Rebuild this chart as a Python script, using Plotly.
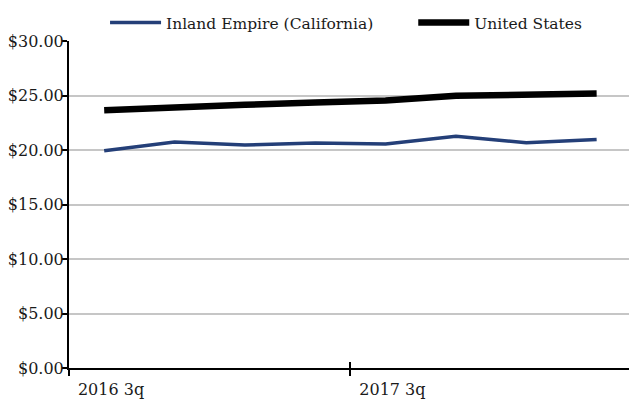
import plotly.graph_objects as go

quarters = ["2016 3q", "2016 4q", "2017 1q", "2017 2q", "2017 3q", "2017 4q", "2018 1q", "2018 2q"]
inland_empire = [19.94, 20.73, 20.45, 20.64, 20.55, 21.27, 20.67, 20.97]
united_states = [23.64, 23.94, 24.15, 24.36, 24.55, 24.97, 25.06, 25.18]
y_ticks = [0, 5, 10, 15, 20, 25, 30]
y_tick_labels = ["$0.00", "$5.00", "$10.00", "$15.00", "$20.00", "$25.00", "$30.00"]
x_tick_labels = [quarters[0], quarters[4]]

xpos = list(range(len(quarters)))
FONT = "DejaVu Serif"
TXT = "#1a1a1a"

fig = go.Figure()
fig.add_trace(go.Scatter(x=xpos, y=inland_empire, mode="lines", name="Inland Empire (California)",
                         line=dict(color="#243f78", width=3.5), legend="legend"))
fig.add_trace(go.Scatter(x=xpos, y=united_states, mode="lines", name="United States",
                         line=dict(color="#000000", width=6.5), legend="legend2"))

legend_common = dict(orientation="h", xref="container", yref="container", y=0.9425,
                     xanchor="left", yanchor="middle", itemwidth=51,
                     bgcolor="rgba(0,0,0,0)",
                     font=dict(family=FONT, size=15.5, color=TXT))

fig.update_layout(
    width=629, height=400,
    margin=dict(l=69, r=0, t=41, b=32, autoexpand=False),
    paper_bgcolor="white", plot_bgcolor="white",
    font=dict(family=FONT, size=16, color=TXT),
    showlegend=True,
    legend=dict(x=0.167, **legend_common),
    legend2=dict(x=0.657, **legend_common),
    xaxis=dict(range=[-0.5, 7.46], tickvals=[-0.5, 3.5], ticktext=x_tick_labels,
               ticks="outside", ticklen=6, tickwidth=2, tickcolor="black",
               showline=True, linecolor="black", linewidth=2, showgrid=False, zeroline=False,
               ticklabelshift=42, ticklabelstandoff=0,
               tickfont=dict(family=FONT, size=16, color=TXT)),
    xaxis2=dict(range=[-0.5, 7.46], tickvals=[-0.5, 3.5], overlaying="x",
                ticks="inside", ticklen=6, tickwidth=2, tickcolor="black",
                showticklabels=False, showline=False, showgrid=False, zeroline=False),
    yaxis=dict(range=[0, 30], tickvals=y_ticks, ticktext=y_tick_labels,
               ticks="outside", ticklen=5, tickwidth=2, tickcolor="black",
               showline=True, linecolor="black", linewidth=2, ticklabelstandoff=-5,
               showgrid=True, gridcolor="#c6c6c6", gridwidth=2, zeroline=False,
               tickfont=dict(family=FONT, size=16, color=TXT)),
)
fig.add_trace(go.Scatter(x=[None], y=[None], xaxis="x2", showlegend=False, hoverinfo="skip"))
fig.write_html("out.html")
